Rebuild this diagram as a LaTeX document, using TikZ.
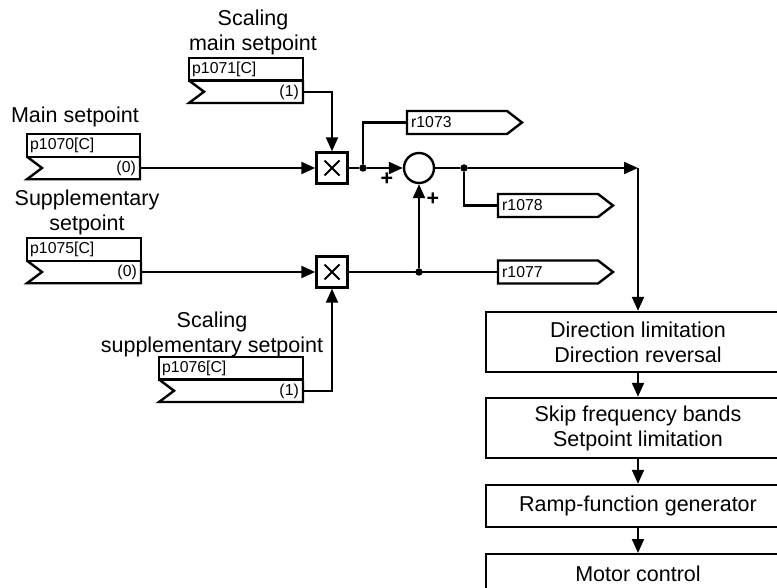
\documentclass[tikz,border=0pt]{standalone}
\usepackage{fontspec}
\setmainfont{Liberation Sans}
\usetikzlibrary{arrows.meta}
\newcommand\PBox[6]{%
  \draw[boxline] (#2,#3) rectangle (#4,#3+22.5);
  \draw[boxline] (#2,#3+22.5) -- (#2+15,#3+33.75) -- (#2,#3+45) -- (#4,#3+45) -- (#4,#3+22.5);
  \node[small,anchor=west] (#1) at (#2+3,#3+11.5) {#5};
  \node[small,anchor=east] (#1v) at (#4-4,#3+34) {#6};
  \coordinate (#1out) at (#4,#3+33.75);
}
\newcommand\Flag[4]{%
  \draw[boxline] (#2,#3-11.5) -- (#2+100,#3-11.5) -- (#2+115,#3) -- (#2+100,#3+11.5) -- (#2,#3+11.5) -- cycle;
  \node[small,anchor=west] (#1) at (#2,#3) {\hspace{4pt}#4};
}
\begin{document}
\begin{tikzpicture}[x=1pt,y=-1pt,
  conn/.style={line width=2.1pt},
  arr/.style={conn,-{Triangle[length=14pt,width=12pt]}},
  boxline/.style={line width=2.4pt, line join=miter},
  big/.style={font=\fontsize{21.5}{25}\selectfont, align=center, inner sep=0pt},
  small/.style={font=\fontsize{15.8}{18}\selectfont, inner sep=0pt},
  mult/.style={draw, line width=2.4pt, minimum size=31pt, inner sep=0pt},
  sumc/.style={draw, circle, line width=2.4pt, minimum size=30pt, inner sep=0pt},
  dot/.style={circle, fill, inner sep=0pt, minimum size=7.5pt},
  flowbox/.style={draw, line width=2.4pt, minimum width=304pt, align=center, font=\fontsize{21.5}{25}\selectfont, inner sep=0pt}
]
\useasboundingbox (0,0) rectangle (777,588);
\clip (0,0) rectangle (777,588);

% labels
\node[big] (lscm) at (253,32) {Scaling\\main setpoint};
\node[big] (lmain) at (75,117) {Main setpoint};
\node[big] (lsup) at (87,212) {Supplementary\\setpoint};
\node[big] (lscs) at (212,334) {Scaling\\supplementary setpoint};

% parameter boxes
\PBox{p1071}{189}{58}{303}{p1071[C]}{(1)}
\PBox{p1070}{27}{134.25}{140}{p1070[C]}{(0)}
\PBox{p1075}{27}{238.25}{141}{p1075[C]}{(0)}
\PBox{p1076}{159}{357}{303}{p1076[C]}{(1)}

% multipliers and sum
\node[mult] (m1) at (332,168) {};
\node[mult] (m2) at (332,272) {};
\foreach \m in {m1,m2}{
  \draw[line width=2pt] ([shift={(-7.5,-7.5)}]\m.center) -- ([shift={(7.5,7.5)}]\m.center);
  \draw[line width=2pt] ([shift={(-7.5,7.5)}]\m.center) -- ([shift={(7.5,-7.5)}]\m.center);
}
\node[sumc] (sum) at (419,168) {};
\node[big] (plus1) at (387,179) {\textbf{+}};
\node[big] (plus2) at (433,199) {\textbf{+}};

\node[dot] (d1) at (363,168) {};
\node[dot] (d2) at (464,168) {};
\node[dot] (d3) at (419,272) {};
\coordinate (c1) at (638,168);

% flags
\Flag{r1073}{407}{122.5}{r1073}
\Flag{r1078}{498}{205.5}{r1078}
\Flag{r1077}{498}{272}{r1077}

% flow boxes
\node[flowbox, minimum height=60pt] (b1) at (638,342) {Direction limitation\\Direction reversal};
\node[flowbox, minimum height=60pt] (b2) at (638,428) {Skip frequency bands\\Setpoint limitation};
\node[flowbox, minimum height=42pt] (b3) at (638,506) {Ramp-function generator};
\node[flowbox, minimum height=40pt, anchor=north] (b4) at (638,553) {Motor control};

% connectors
\draw[arr] (p1070out) -- (m1);
\draw[arr] (p1071out) -| (m1);
\draw[arr] (p1075out) -- (m2);
\draw[arr] (p1076out) -| (m2);
\draw[conn] (m1) -- (d1);
\draw[arr] (d1) -- (sum);
\draw[conn] (d1) |- (r1073.west);
\draw[conn] (sum) -- (d2);
\draw[arr] (d2) -- (c1);
\draw[arr] (c1) -- (b1);
\draw[conn] (d2) |- (r1078.west);
\draw[conn] (m2) -- (r1077.west);
\draw[arr] (d3) -- (sum);
\draw[arr] (b1) -- (b2);
\draw[arr] (b2) -- (b3);
\draw[arr] (b3) -- (b4);
\end{tikzpicture}
\end{document}
